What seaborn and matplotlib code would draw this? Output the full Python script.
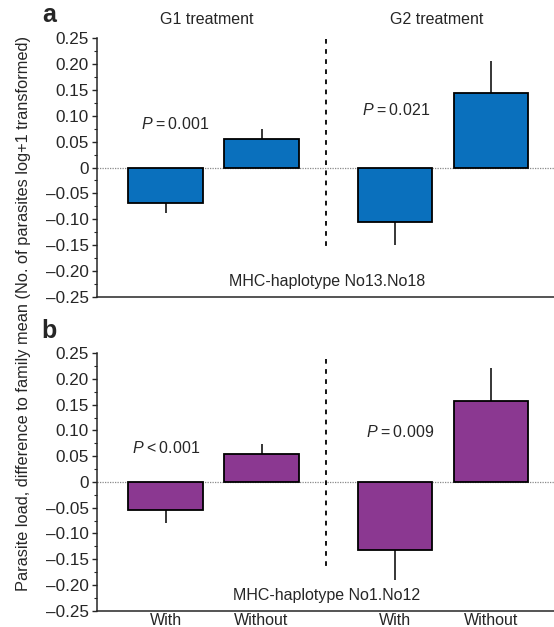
import numpy as np
import pandas as pd
import matplotlib
matplotlib.use("Agg")
import matplotlib.pyplot as plt
from matplotlib.ticker import MultipleLocator, FuncFormatter
import seaborn as sns

# ---------------- data ----------------
groups = ["G1 treatment", "G2 treatment"]
conditions = ["With", "Without"]
means_a = [-0.068, 0.055, -0.106, 0.145]
se_a = [0.021, 0.019, 0.043, 0.061]
means_b = [-0.054, 0.055, -0.133, 0.157]
se_b = [0.026, 0.019, 0.058, 0.064]
pvals_a = ["=0.001", "=0.021"]
pvals_b = ["<0.001", "=0.009"]
haplotypes = ["MHC-haplotype No13.No18", "MHC-haplotype No1.No12"]
panel_letters = ["a", "b"]
yticks = [-0.25, -0.20, -0.15, -0.10, -0.05, 0, 0.05, 0.10, 0.15, 0.20, 0.25]

# ---------------- style ----------------
sns.set_style("ticks")
plt.rcParams["font.family"] = ["Liberation Sans", "DejaVu Sans"]
plt.rcParams["mathtext.fontset"] = "custom"
plt.rcParams["mathtext.rm"] = "Liberation Sans"
plt.rcParams["mathtext.it"] = "Liberation Sans:italic"

FS = 11.5
colors = ["#0A70BD", "#8B3891"]
group_gap = 2.39  # layout offset between group starts

positions = []
for gi, _ in enumerate(groups):
    for ci, _ in enumerate(conditions):
        positions.append(ci + gi * group_gap)
positions = np.array(positions)

fig = plt.figure(figsize=(5.54, 6.27), dpi=100)
ax_a = fig.add_axes([0.1745, 0.5268, 0.8255, 0.4121])
ax_b = fig.add_axes([0.1745, 0.0262, 0.8255, 0.4103])

def fmt(v, _):
    if abs(v) < 1e-9:
        return "0"
    return f"{v:.2f}".replace("-", "\u2013")

panels = [
    (ax_a, means_a, se_a, pvals_a, colors[0], haplotypes[0],
     [(0.096, 0.084), (2.40, 0.111)], (0.248, -0.156)),
    (ax_b, means_b, se_b, pvals_b, colors[1], haplotypes[1],
     [(0.005, 0.065), (2.443, 0.097)], (0.239, -0.165)),
]

for idx, (ax, means, ses, pv, col, hap, ppos, sep) in enumerate(panels):
    df = pd.DataFrame({"pos": positions, "mean": means})
    ax.axhline(0, color="#8a8a8a", lw=0.9, ls=(0, (1, 1)), zorder=0.5)
    sns.barplot(data=df, x="pos", y="mean", native_scale=True, color=col,
                saturation=1, edgecolor="black", linewidth=1.3, width=0.78,
                errorbar=None, ax=ax, zorder=2)
    means_arr = np.array(means)
    ses_arr = np.array(ses)
    ends = means_arr + np.sign(means_arr) * ses_arr
    ax.vlines(positions, means_arr, ends, color="black", lw=1.1, zorder=1)

    # separator
    sep_x = 1 + (group_gap - 1) / 2 - 0.025
    ax.plot([sep_x, sep_x], [sep[0], sep[1]], color="black", lw=1.3,
            ls=(0, (2.6, 3.0)), zorder=1)

    for (tx, ty), p in zip(ppos, pv):
        sym = p[0]
        num = p[1:]
        ax.text(tx, ty, r"$\mathit{P}\hspace{0.06}" + sym + r"\hspace{0.06}$" + num,
                ha="center", va="center", fontsize=FS)

    ax.text(1.68, -0.221, hap, ha="center", va="center", fontsize=FS)

    ax.set_ylim(-0.25, 0.25)
    ax.set_xlim(-0.717, 4.046)
    ax.yaxis.set_major_locator(MultipleLocator(0.05))
    ax.yaxis.set_minor_locator(MultipleLocator(0.025))
    ax.yaxis.set_major_formatter(FuncFormatter(fmt))
    ax.set_yticks(yticks)
    ax.tick_params(axis="y", which="major", length=3.5, width=1.0,
                   labelsize=12.3, pad=2, direction="out")
    ax.tick_params(axis="y", which="minor", length=2, width=0.8,
                   direction="out")
    for s in ["top", "right"]:
        ax.spines[s].set_visible(False)
    ax.spines["left"].set_linewidth(1.1)
    ax.spines["bottom"].set_linewidth(1.1)
    ax.set_xlabel("")
    ax.set_ylabel("")

    ax.text(-0.088, 1.09 if idx == 0 else 1.085, panel_letters[idx],
            transform=ax.transAxes, fontsize=18, fontweight="bold",
            ha="right", va="center")

# x tick labels
ax_a.set_xticks([])
ax_b.set_xticks(positions)
ax_b.set_xticklabels(conditions * len(groups))
ax_b.tick_params(axis="x", length=0, labelsize=FS, pad=2)

# group titles
for gi, g in enumerate(groups):
    gx = positions[gi * 2:(gi + 1) * 2].mean() - 0.07
    ax_a.text(gx, 1.072, g, transform=ax_a.get_xaxis_transform(),
              ha="center", va="center", fontsize=FS)

fig.text(0.043, 0.50,
         "Parasite load, difference to family mean (No. of parasites log+1 transformed)",
         rotation=90, ha="center", va="center", fontsize=11.8)

fig.savefig("out.png", dpi=100)
